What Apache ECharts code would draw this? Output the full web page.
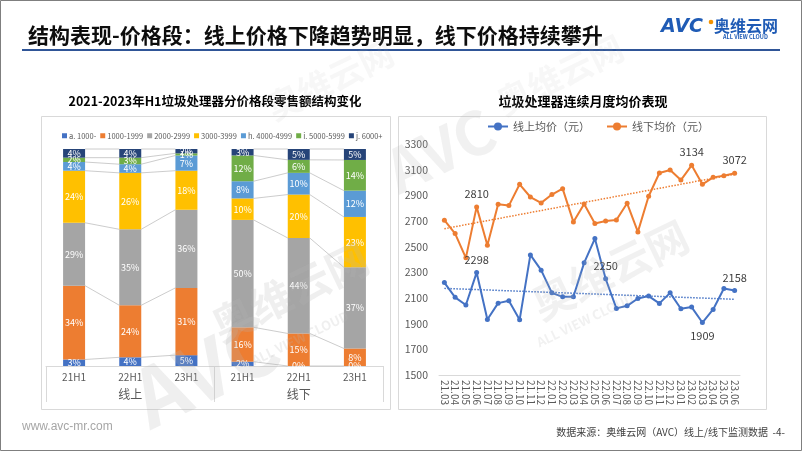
<!DOCTYPE html>
<html>
<head>
<meta charset="utf-8">
<script src="https://cdn.jsdelivr.net/npm/echarts@6/dist/echarts.min.js"></script>
<style>
  html, body { margin: 0; padding: 0; background: #fff; }
  #main { width: 802px; height: 451px; }
</style>
</head>
<body>
<div id="main"></div>
<script>
// left chart: retail share by price segment (%)
const barCats = ['21H1', '22H1', '23H1', '21H1', '22H1', '23H1'];
const channels = ['线上', '线下'];
const segNames = ['a. 1000-', '1000-1999', '2000-2999', '3000-3999', 'h. 4000-4999', 'i. 5000-5999', 'j. 6000+'];
const segBelow1000 = [3, 4, 5, 2, 0, 0];
const seg1000 = [34, 24, 31, 16, 15, 8];
const seg2000 = [29, 35, 36, 50, 44, 37];
const seg3000 = [24, 26, 18, 10, 20, 23];
const seg4000 = [4, 4, 7, 8, 10, 12];
const seg5000 = [2, 3, 1, 12, 6, 14];
const seg6000 = [4, 4, 2, 3, 5, 5];

// right chart: monthly average price (yuan)
const months = ['21.03', '21.04', '21.05', '21.06', '21.07', '21.08', '21.09', '21.10', '21.11', '21.12',
  '22.01', '22.02', '22.03', '22.04', '22.05', '22.06', '22.07', '22.08', '22.09', '22.10', '22.11', '22.12',
  '23.01', '23.02', '23.03', '23.04', '23.05', '23.06'];
const onlinePrice = [2220, 2105, 2045, 2298, 1933, 2060, 2078, 1930, 2436, 2317, 2140, 2109, 2110, 2374,
  2563, 2250, 2019, 2039, 2096, 2115, 2058, 2140, 2016, 2029, 1909, 2011, 2174, 2158];
const offlinePrice = [2706, 2602, 2413, 2810, 2511, 2830, 2820, 2986, 2887, 2841, 2906, 2952, 2693, 2833,
  2680, 2700, 2708, 2838, 2615, 2893, 3074, 3097, 3019, 3134, 2986, 3040, 3053, 3072];
const onlineLabelled = [3, 15, 24, 27];
const offlineLabelled = [3, 23, 27];
// dotted trend lines, start / end values
const onlineTrend = [2175, 2090];
const offlineTrend = [2640, 3065];

const segColors = ['#4472C4', '#ED7D31', '#A5A5A5', '#FFC000', '#5B9BD5', '#70AD47', '#264478'];
const segData = [segBelow1000, seg1000, seg2000, seg3000, seg4000, seg5000, seg6000];
const FONT = '"Noto Sans CJK SC", "Noto Sans", sans-serif';
const BAR_W = 22;

// shares scaled so every column fills 100
const totals = barCats.map((c, i) => segData.reduce((s, arr) => s + arr[i], 0));
const norm = segData.map(arr => arr.map((v, i) => v / totals[i] * 100));

const barSeries = segNames.map((name, k) => ({
  name: name,
  type: 'bar',
  stack: 'share',
  xAxisIndex: 0,
  yAxisIndex: 0,
  barWidth: BAR_W,
  itemStyle: { color: segColors[k] },
  label: {
    show: true,
    position: 'inside',
    color: '#fff',
    fontSize: 9,
    fontFamily: FONT,
    formatter: p => segData[k][p.dataIndex] + '%'
  },
  data: norm[k]
}));

// series lines between neighbouring columns of the same channel
const linkData = [];
[[0, 1], [1, 2], [3, 4], [4, 5]].forEach(pair => {
  let a = 0, b = 0;
  for (let k = 0; k < norm.length; k++) {
    a += norm[k][pair[0]];
    b += norm[k][pair[1]];
    linkData.push([pair[0], a, b]);
  }
});

const linkSeries = {
  type: 'custom',
  xAxisIndex: 0,
  yAxisIndex: 0,
  silent: true,
  z: 1,
  encode: { x: 0, y: 1 },
  renderItem: function (params, api) {
    const i = api.value(0);
    const p1 = api.coord([i, api.value(1)]);
    const p2 = api.coord([i + 1, api.value(2)]);
    return {
      type: 'line',
      shape: { x1: p1[0] + BAR_W / 2, y1: p1[1], x2: p2[0] - BAR_W / 2, y2: p2[1] },
      style: { stroke: '#BFBFBF', lineWidth: 0.8 }
    };
  },
  data: linkData
};

function pointData(values, labelled, bottomIdx) {
  return values.map((v, i) => {
    if (labelled.indexOf(i) < 0) return v;
    return {
      value: v,
      label: { show: true, position: i === bottomIdx ? 'bottom' : 'top', color: '#404040', fontSize: 11, fontFamily: FONT }
    };
  });
}

const lineSeries = [
  {
    name: '线上均价（元）',
    type: 'line',
    xAxisIndex: 1,
    yAxisIndex: 1,
    symbol: 'circle',
    symbolSize: 5,
    color: '#4472C4',
    lineStyle: { width: 2 },
    data: pointData(onlinePrice, onlineLabelled, 24),
    markLine: {
      silent: true,
      symbol: 'none',
      label: { show: false },
      lineStyle: { type: 'dotted', width: 1.5, color: '#4472C4' },
      data: [[{ coord: [months[0], onlineTrend[0]] }, { coord: [months[months.length - 1], onlineTrend[1]] }]]
    }
  },
  {
    name: '线下均价（元）',
    type: 'line',
    xAxisIndex: 1,
    yAxisIndex: 1,
    symbol: 'circle',
    symbolSize: 5,
    color: '#ED7D31',
    lineStyle: { width: 2 },
    data: pointData(offlinePrice, offlineLabelled, -1),
    markLine: {
      silent: true,
      symbol: 'none',
      label: { show: false },
      lineStyle: { type: 'dotted', width: 1.5, color: '#ED7D31' },
      data: [[{ coord: [months[0], offlineTrend[0]] }, { coord: [months[months.length - 1], offlineTrend[1]] }]]
    }
  }
];

function mark(text, x, y, size, rot, alpha) {
  return {
    type: 'text', x: x, y: y, rotation: rot, z: 100, silent: true,
    style: {
      text: text, fill: 'rgba(180,180,180,' + alpha + ')', fontSize: size, fontWeight: 'bold',
      fontFamily: FONT, align: 'center', verticalAlign: 'middle'
    }
  };
}

const chart = echarts.init(document.getElementById('main'));
chart.setOption({
  animation: false,
  backgroundColor: '#fff',
  textStyle: { fontFamily: FONT },
  legend: [
    {
      data: segNames,
      left: 62,
      top: 132,
      padding: 0,
      icon: 'rect',
      itemWidth: 5,
      itemHeight: 5,
      itemGap: 4,
      textStyle: { fontSize: 7.5, color: '#595959', padding: [0, 0, 0, -3] }
    },
    {
      data: ['线上均价（元）', '线下均价（元）'],
      left: 487,
      top: 121,
      padding: 0,
      itemWidth: 20,
      itemHeight: 10,
      itemGap: 16,
      textStyle: { fontSize: 11, color: '#595959' }
    }
  ],
  grid: [
    { left: 46, right: 419, top: 149, bottom: 85 },
    { left: 439, right: 62, top: 144, bottom: 76 }
  ],
  xAxis: [
    {
      gridIndex: 0,
      type: 'category',
      data: barCats,
      axisLine: { lineStyle: { color: '#D9D9D9' } },
      axisTick: { show: false },
      axisLabel: { color: '#595959', fontSize: 10, margin: 6 }
    },
    {
      gridIndex: 1,
      type: 'category',
      data: months,
      axisLine: { lineStyle: { color: '#D9D9D9' } },
      axisTick: { show: false },
      axisLabel: { color: '#595959', fontSize: 10, margin: 5, rotate: -90, interval: 0 }
    },
    {
      gridIndex: 0,
      type: 'category',
      data: channels,
      position: 'bottom',
      axisLine: { show: false },
      axisTick: { show: true, length: 36, lineStyle: { color: '#D9D9D9' } },
      axisLabel: { color: '#595959', fontSize: 12, margin: 22 }
    }
  ],
  yAxis: [
    { gridIndex: 0, type: 'value', min: 0, max: 100, show: false },
    {
      gridIndex: 1,
      type: 'value',
      min: 1500,
      max: 3300,
      interval: 200,
      axisLine: { show: false },
      axisTick: { show: false },
      splitLine: { show: false },
      axisLabel: { color: '#595959', fontSize: 10.5, margin: 11, formatter: v => String(v) }
    }
  ],
  series: barSeries.concat([linkSeries]).concat(lineSeries),
  graphic: [
    { type: 'rect', shape: { x: 0.5, y: 0.5, width: 801, height: 450 }, style: { fill: 'none', stroke: '#7F7F7F', lineWidth: 1 } },
    { type: 'text', x: 28, y: 35, style: { text: '结构表现-价格段：线上价格下降趋势明显，线下价格持续攀升', fill: '#0D0D0D', fontSize: 21, fontWeight: 'bold', fontFamily: FONT, verticalAlign: 'middle' } },
    { type: 'line', shape: { x1: 22, y1: 50, x2: 780, y2: 50 }, style: { stroke: '#2F5597', lineWidth: 2 } },
    { type: 'text', x: 661, y: 27, style: { text: 'AVC', fill: '#1F5BB5', fontSize: 19, fontWeight: 900, fontStyle: 'italic', fontFamily: '"DejaVu Sans", sans-serif', verticalAlign: 'middle' } },
    { type: 'circle', shape: { cx: 711, cy: 22, r: 2.3 }, style: { fill: '#F39200' } },
    { type: 'text', x: 714, y: 26, style: { text: '奥维云网', fill: '#1F5BB5', fontSize: 16, fontWeight: 'bold', fontFamily: FONT, verticalAlign: 'middle' } },
    { type: 'text', x: 723, y: 37, style: { text: 'ALL VIEW CLOUD', fill: '#1F5BB5', fontSize: 5.5, fontWeight: 'bold', fontFamily: FONT, verticalAlign: 'middle' } },
    { type: 'text', x: 215, y: 101, style: { text: '2021-2023年H1垃圾处理器分价格段零售额结构变化', fill: '#000', fontSize: 12.5, fontWeight: 'bold', fontFamily: FONT, align: 'center', verticalAlign: 'middle' } },
    { type: 'text', x: 583, y: 101, style: { text: '垃圾处理器连续月度均价表现', fill: '#000', fontSize: 13, fontWeight: 'bold', fontFamily: FONT, align: 'center', verticalAlign: 'middle' } },
    { type: 'rect', shape: { x: 41.5, y: 116.5, width: 349, height: 293 }, style: { fill: 'none', stroke: '#D9D9D9', lineWidth: 1 } },
    { type: 'rect', shape: { x: 398.5, y: 116.5, width: 368, height: 293 }, style: { fill: 'none', stroke: '#D9D9D9', lineWidth: 1 } },
    { type: 'text', x: 22, y: 427, style: { text: 'www.avc-mr.com', fill: '#A6A6A6', fontSize: 12, fontFamily: '"Liberation Sans", sans-serif', verticalAlign: 'middle' } },
    { type: 'text', x: 785, y: 432, style: { text: '数据来源：奥维云网（AVC）线上/线下监测数据  -4-', fill: '#404040', fontSize: 10, fontFamily: FONT, align: 'right', verticalAlign: 'middle' } },
    mark('AVC', 205, 370, 80, 0.45, 0.22),
    mark('奥维云网', 290, 292, 42, 0.45, 0.22),
    mark('ALL VIEW CLOUD', 300, 338, 13, 0.45, 0.22),
    mark('AVC', 440, 150, 60, 0.45, 0.18),
    mark('奥维云网', 610, 270, 42, 0.45, 0.18),
    mark('ALL VIEW CLOUD', 585, 320, 13, 0.45, 0.18),
    mark('奥维云网', 330, 80, 34, 0.45, 0.1),
    mark('奥维云网', 560, 75, 34, 0.45, 0.1)
  ]
});
</script>
</body>
</html>
